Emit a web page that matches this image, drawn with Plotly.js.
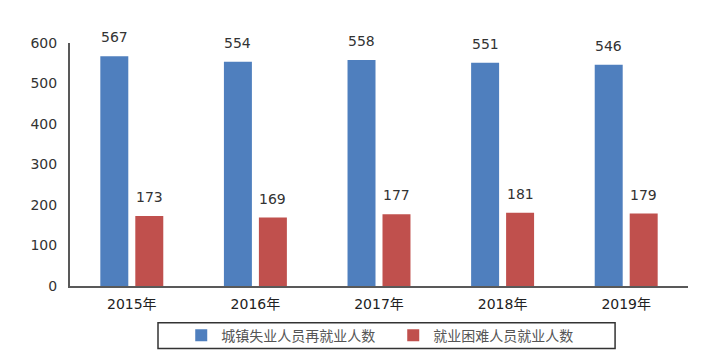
<!DOCTYPE html>
<html><head><meta charset="utf-8">
<script src="https://cdn.plot.ly/plotly-3.0.1.min.js"></script>
<style>body{margin:0;background:#fff}#c{width:710px;height:364px}</style>
</head><body><div id="c"></div>
<script>
const years = ['2015年','2016年','2017年','2018年','2019年'];
const reemployed = [567, 554, 558, 551, 546];
const difficult = [173, 169, 177, 181, 179];
const seriesNames = ['城镇失业人员再就业人数','就业困难人员就业人数'];
const seriesColors = ['#4F7FBE','#C0504D'];
const font = '"DejaVu Sans", "Noto Sans CJK SC", sans-serif';
const traces = [
  {type:'bar', x:years, y:reemployed, name:seriesNames[0], marker:{color:seriesColors[0]}},
  {type:'bar', x:years, y:difficult, name:seriesNames[1], marker:{color:seriesColors[1]}}
];
const annotations = [];
[reemployed, difficult].forEach((vals, s) => {
  vals.forEach((v, i) => annotations.push({
    x: years[i], y: v, xref:'x', yref:'y', text: String(v), showarrow:false,
    xshift: s === 0 ? -17.5 : 17.5, yshift: 9, yanchor:'bottom',
    font:{size:14, color:'#333', family:font}
  }));
});
const layout = {
  width:710, height:364,
  margin:{l:70, r:22, t:43, b:75},
  paper_bgcolor:'#fff', plot_bgcolor:'#fff',
  font:{family:font, color:'#404040', size:14},
  barmode:'group', bargap:0.434, bargroupgap:0.2,
  showlegend:true,
  legend:{orientation:'h', x:0.18, xanchor:'left', y:-0.204, yanchor:'middle',
    borderwidth:0, bgcolor:'rgba(0,0,0,0)',
    font:{size:14, color:'#555', family:'"Noto Sans CJK SC", sans-serif'},
    itemwidth:30, entrywidth:167},
  shapes:[{type:'rect', xref:'paper', yref:'paper', x0:0.1424, x1:0.882, y0:-0.151, y1:-0.257,
    line:{color:'#333', width:1.5}, fillcolor:'rgba(0,0,0,0)'}],
  annotations: annotations,
  xaxis:{showline:true, linecolor:'#595959', linewidth:2, ticks:'', showgrid:false,
    tickfont:{size:14, color:'#222'}, ticklabelstandoff:4},
  yaxis:{range:[0,600], dtick:100, showline:true, linecolor:'#595959', linewidth:2,
    ticks:'', showgrid:false, zeroline:false, tickfont:{size:14, color:'#333'}, ticklabelstandoff:8}
};
Plotly.newPlot('c', traces, layout, {displayModeBar:false, staticPlot:true});
</script></body></html>
